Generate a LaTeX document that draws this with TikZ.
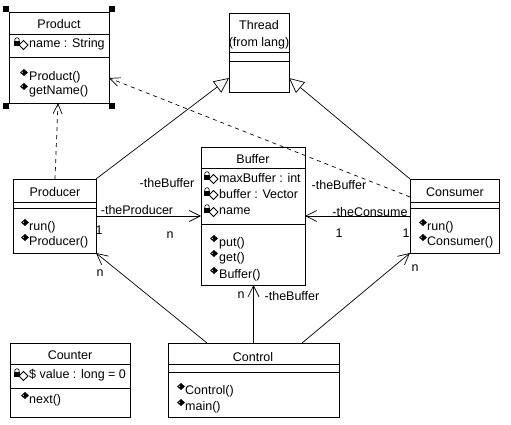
\documentclass[tikz,border=0pt]{standalone}
\usepackage{fontspec}
\setmainfont{Liberation Sans}
\usetikzlibrary{arrows.meta, calc, positioning}

\tikzset{
  cls/.style={draw, line width=0.8pt, rectangle, anchor=north west, inner sep=0pt, outer sep=0pt, fill=white},
  row/.style={anchor=west, inner sep=0pt},
  ttl/.style={anchor=center, inner sep=0pt},
  lbl/.style={anchor=center, inner sep=0pt},
  nav/.style={line width=0.7pt, -{Straight Barb[length=11pt, width=11pt]}},
  gen/.style={line width=0.7pt, -{Triangle[open, length=15pt, width=14pt, fill=white]}},
  dep/.style={line width=0.7pt, dash pattern=on 4pt off 4pt, -{Straight Barb[length=10pt, width=9pt]}},
  handle/.style={fill=black, minimum size=6pt, inner sep=0pt, outer sep=0pt},
  opicon/.pic={
    \fill (0,-4.5) -- (4,-8) -- (8,-4.5) -- (4,-1) -- cycle;
    \fill[white] (2.2,-4.8) circle (0.7);
  },
  attricon/.pic={
    \draw[line width=0.6pt] (4,-4) circle (2.3);
    \fill (1,-3) rectangle (7,2);
    \draw[line width=0.8pt, fill=white] (6,1) -- (10.5,-3.5) -- (15,1) -- (10.5,5.5) -- cycle;
  }
}

\begin{document}
\begin{tikzpicture}[x=1pt, y=-1pt]
  \fill[white] (0,0) rectangle (511,425);
  \useasboundingbox (0,0) rectangle (511,425);
  \begin{scope}[every node/.style = {font=\fontsize{12.5}{15}\selectfont}]
    % class boxes
    \node[cls, minimum width=100pt, minimum height=91pt] (Product) at (9,12) {};
    \node[cls, minimum width=60pt, minimum height=79pt] (Thread) at (229,13) {};
    \node[cls, minimum width=104pt, minimum height=138pt] (Buffer) at (201,147) {};
    \node[cls, minimum width=83pt, minimum height=74pt] (Producer) at (13,179) {};
    \node[cls, minimum width=89pt, minimum height=74pt] (Consumer) at (410,179) {};
    \node[cls, minimum width=120pt, minimum height=74pt] (Counter) at (10,343) {};
    \node[cls, minimum width=171pt, minimum height=74pt] (Control) at (168,343) {};

    % compartments
    \draw[line width=0.8pt] (Product.north west) ++(0,22) -- ++(100,0);
    \draw[line width=0.8pt] (Product.north west) ++(0,45) -- ++(100,0);
    \draw[line width=0.8pt] (Thread.north west) ++(0,39) -- ++(60,0);
    \draw[line width=0.8pt] (Thread.north west) ++(0,48) -- ++(60,0);
    \draw[line width=0.8pt] (Buffer.north west) ++(0,21) -- ++(104,0);
    \draw[line width=0.8pt] (Buffer.north west) ++(0,77) -- ++(104,0);
    \draw[line width=0.8pt] (Producer.north west) ++(0,23) -- ++(83,0);
    \draw[line width=0.8pt] (Producer.north west) ++(0,29) -- ++(83,0);
    \draw[line width=0.8pt] (Consumer.north west) ++(0,23) -- ++(89,0);
    \draw[line width=0.8pt] (Consumer.north west) ++(0,29) -- ++(89,0);
    \draw[line width=0.8pt] (Counter.north west) ++(0,21) -- ++(120,0);
    \draw[line width=0.8pt] (Counter.north west) ++(0,45) -- ++(120,0);
    \draw[line width=0.8pt] (Control.north west) ++(0,21) -- ++(171,0);
    \draw[line width=0.8pt] (Control.north west) ++(0,29) -- ++(171,0);

    % selection handles
    \node[handle] (H1) at (6,9) {};
    \node[handle] (H2) at (112,9) {};
    \node[handle] (H3) at (6,106) {};
    \node[handle] (H4) at (112,106) {};

    % Product
    \node[ttl] (ProductT) at (59,24) {Product};
    \pic at (13,44) {attricon};
    \node[row] (ProductA1) at (29,44) {name : String};
    \pic at (20,77) {opicon};
    \node[row] (ProductO1) at (29,77) {Product()};
    \pic at (20,91) {opicon};
    \node[row] (ProductO2) at (29,91) {getName()};

    % Thread
    \node[ttl] (ThreadT) at (259,25) {Thread};
    \node[ttl] (ThreadS) at (259,43) {(from lang)};

    % Buffer
    \node[ttl] (BufferT) at (253,159) {Buffer};
    \foreach \y/\t [count=\i] in {178/maxBuffer : int, 194/buffer : Vector, 211/name}{
      \pic at (203,\y) {attricon};
      \node[row] (BufferA\i) at (219,\y) {\t};
    }
    \foreach \y/\t [count=\i] in {243/put(), 258/get(), 275/Buffer()}{
      \pic at (210,\y) {opicon};
      \node[row] (BufferO\i) at (219,\y) {\t};
    }

    % Producer
    \node[ttl] (ProducerT) at (55,192) {Producer};
    \pic at (21,227) {opicon};
    \node[row] (ProducerO1) at (29,227) {run()};
    \pic at (21,242) {opicon};
    \node[row] (ProducerO2) at (29,242) {Producer()};

    % Consumer
    \node[ttl] (ConsumerT) at (455,192) {Consumer};
    \pic at (419,227) {opicon};
    \node[row] (ConsumerO1) at (427,227) {run()};
    \pic at (419,242) {opicon};
    \node[row] (ConsumerO2) at (427,242) {Consumer()};

    % Counter
    \node[ttl] (CounterT) at (70,355) {Counter};
    \pic at (13,375) {attricon};
    \node[row] (CounterA1) at (29,375) {\$ value : long = 0};
    \pic at (21,400) {opicon};
    \node[row] (CounterO1) at (29,400) {next()};

    % Control
    \node[ttl] (ControlT) at (253,357) {Control};
    \pic at (177,391) {opicon};
    \node[row] (ControlO1) at (185,391) {Control()};
    \pic at (177,407) {opicon};
    \node[row] (ControlO2) at (185,407) {main()};

    % generalizations
    \draw[gen] (Producer.north east) -- ($(Thread.south west)+(0,-14)$);
    \draw[gen] (Consumer.north west) -- ($(Thread.south east)+(0,-14)$);

    % dependencies
    \draw[dep] ($(Producer.north west)+(42,0)$) -- ($(Product.south west)+(49,0)$);
    \draw[dep] ($(Consumer.north west)+(0,18)$) -- ($(Product.north east)+(0,66)$);

    % associations
    \draw[nav] (Producer.east) -- (Buffer.west);
    \draw[nav] (Consumer.west) -- (Buffer.east);
    \draw[nav] (Control.north) -- (Control.north |- Buffer.south);
    \draw[nav] ($(Control.north west)+(39,0)$) -- (Producer.south east);
    \draw[nav] ($(Control.north west)+(134,0)$) -- (Consumer.south west);

    % role names and multiplicities
    \node[lbl] (R1) at (167,183) {-theBuffer};
    \node[lbl] (R2) at (137,210) {-theProducer};
    \node[lbl] (M1) at (99,230) {1};
    \node[lbl] (M2) at (170,235) {n};
    \node[lbl] (R3) at (339,185) {-theBuffer};
    \node[lbl] (R4) at (370,212) {-theConsume};
    \node[lbl] (M3) at (339,233) {1};
    \node[lbl] (M4) at (406,233) {1};
    \node[lbl] (M5) at (415,268) {n};
    \node[lbl] (M6) at (100,273) {n};
    \node[lbl] (M7) at (241,295) {n};
    \node[lbl] (R5) at (292,296) {-theBuffer};
  \end{scope}
\end{tikzpicture}
\end{document}
